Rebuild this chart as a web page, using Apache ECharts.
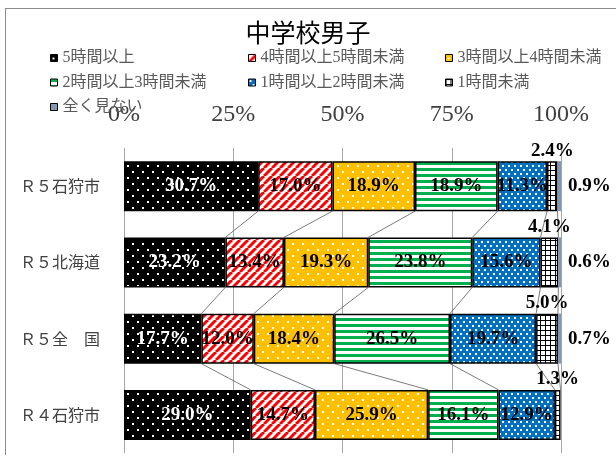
<!DOCTYPE html>
<html>
<head>
<meta charset="utf-8">
<script src="https://cdn.jsdelivr.net/npm/echarts@6/dist/echarts.min.js"></script>
<style>
html, body { margin: 0; padding: 0; background: #fff; }
#frame { position: absolute; left: 5px; top: 8px; width: 640px; height: 446px;
         border-left: 1px solid #8c8c8c; border-top: 1px solid #8c8c8c; }
#main { position: absolute; left: 0; top: 0; width: 616px; height: 457px; }
</style>
</head>
<body>
<div id="frame"></div>
<div id="main"></div>
<script>
// 中学校男子 テレビ視聴時間
var categories = ['Ｒ５石狩市', 'Ｒ５北海道', 'Ｒ５全　国', 'Ｒ４石狩市'];
var seriesNames = ['5時間以上', '4時間以上5時間未満', '3時間以上4時間未満',
                   '2時間以上3時間未満', '1時間以上2時間未満', '1時間未満', '全く見ない'];
var h5plus = [30.7, 23.2, 17.7, 29.0];
var h4to5  = [17.0, 13.4, 12.0, 14.7];
var h3to4  = [18.9, 19.3, 18.4, 25.9];
var h2to3  = [18.9, 23.8, 26.5, 16.1];
var h1to2  = [11.3, 15.6, 19.7, 12.9];
var under1 = [2.4, 4.1, 5.0, 1.3];
var none   = [0.9, 0.6, 0.7, 0];
var tickLabels = ['0%', '25%', '50%', '75%', '100%'];

var seriesData = [h5plus, h4to5, h3to4, h2to3, h1to2, under1, none];

// 塗りパターン（canvasタイル）
function makeTile(w, h, draw) {
    var c = document.createElement('canvas');
    c.width = w; c.height = h;
    draw(c.getContext('2d'), w, h);
    return { image: c, repeat: 'repeat' };
}
function dots(bg, w, h, pts, size) {
    return makeTile(w, h, function (ctx) {
        ctx.fillStyle = bg; ctx.fillRect(0, 0, w, h);
        ctx.fillStyle = '#fff';
        pts.forEach(function (p) { ctx.fillRect(p[0], p[1], size, size); });
    });
}
var dotBlack = dots('#000', 10, 12, [[2, 3], [7, 9]], 2);
var dotOrange = dots('#FFC000', 10, 12, [[2, 3], [7, 9]], 2);
var dotBlue = dots('#0070C0', 6, 8, [[1, 1], [4, 5]], 2);
var redStripe = makeTile(8, 8, function (ctx, w, h) {
    ctx.fillStyle = '#fff'; ctx.fillRect(0, 0, w, h);
    ctx.strokeStyle = '#FF0000'; ctx.lineWidth = 3;
    [-8, 0, 8].forEach(function (o) {
        ctx.beginPath(); ctx.moveTo(o, h); ctx.lineTo(o + w, 0); ctx.stroke();
    });
});
var greenStripe = makeTile(4, 6, function (ctx, w, h) {
    ctx.fillStyle = '#fff'; ctx.fillRect(0, 0, w, h);
    ctx.fillStyle = '#00B050'; ctx.fillRect(0, 0, w, 3);
});
var gridFill = makeTile(5, 5, function (ctx, w, h) {
    ctx.fillStyle = '#fff'; ctx.fillRect(0, 0, w, h);
    ctx.fillStyle = '#000'; ctx.fillRect(0, 0, w, 1); ctx.fillRect(0, 0, 1, h);
});
var fills = [dotBlack, redStripe, dotOrange, greenStripe, dotBlue, gridFill, '#8497B0'];

var barW = 50;
var numFont = "'Liberation Serif', 'Noto Sans CJK JP', serif";

function pct(p) { return p.value > 0 ? p.value.toFixed(1) + '%' : ''; }

var series = seriesData.map(function (arr, k) {
    var lbl = { show: true, formatter: pct, fontFamily: numFont, fontSize: 19, fontWeight: 'bold',
                color: '#000', textBorderWidth: 0 };
    if (k < 5) {
        lbl.position = 'inside';
        if (k === 0) lbl.color = '#fff';
    } else if (k === 5) {
        lbl.position = 'top'; lbl.distance = 1;
    } else {
        lbl.position = 'right'; lbl.distance = 7;
    }
    return {
        name: seriesNames[k], type: 'bar', stack: 'total', barWidth: barW,
        data: arr,
        itemStyle: { color: fills[k], borderColor: k === 6 ? '#8497B0' : '#000',
                     borderWidth: k === 6 ? 0 : 1.5 },
        label: lbl
    };
});

// 区分線（上下の棒の境界をつなぐ）
var linkData = [];
for (var i = 0; i < categories.length - 1; i++) {
    var a = 0, b = 0;
    for (var k = 0; k < 6; k++) {
        a += seriesData[k][i]; b += seriesData[k][i + 1];
        linkData.push([a, i, b, i + 1]);
    }
}
series.push({
    type: 'custom', silent: true, z: 1,
    encode: { x: [0, 2], y: [1, 3] },
    data: linkData,
    renderItem: function (params, api) {
        var p1 = api.coord([api.value(0), api.value(1)]);
        var p2 = api.coord([api.value(2), api.value(3)]);
        return {
            type: 'line',
            shape: { x1: p1[0], y1: p1[1] + barW / 2, x2: p2[0], y2: p2[1] - barW / 2 },
            style: { stroke: '#595959', lineWidth: 0.8 }
        };
    }
});

var legendText = { fontFamily: numFont, fontSize: 16, color: '#595959', lineHeight: 16 };
function legendAt(left, names) {
    return { orient: 'vertical', left: left, top: 45, icon: 'rect', itemWidth: 7, itemHeight: 7,
             itemGap: 8.5, textStyle: legendText, data: names,
             itemStyle: { borderColor: '#000', borderWidth: 1 } };
}

var myChart = echarts.init(document.getElementById('main'));
var option = {
    animation: false,
    title: {
        text: '中学校男子', left: 'center', top: 15,
        textStyle: { fontFamily: 'Noto Sans CJK JP', fontSize: 25, fontWeight: 'normal', color: '#000' }
    },
    legend: [
        legendAt(45, [seriesNames[0], seriesNames[3], seriesNames[6]]),
        legendAt(243, [seriesNames[1], seriesNames[4]]),
        legendAt(440, [seriesNames[2], seriesNames[5]])
    ],
    grid: { left: 124, right: 55, top: 148, bottom: 4 },
    xAxis: {
        type: 'value', position: 'top', min: 0, max: 100, interval: 25,
        axisLine: { show: false }, axisTick: { show: false },
        axisLabel: {
            formatter: function (v) { return tickLabels[v / 25]; },
            fontFamily: numFont, fontSize: 24, color: '#404040', margin: 21
        },
        splitLine: { show: true, lineStyle: { color: '#a6a6a6', width: 1 } }
    },
    yAxis: {
        type: 'category', inverse: true, data: categories,
        axisLine: { show: false }, axisTick: { show: false },
        axisLabel: { fontFamily: 'Noto Sans CJK JP', fontSize: 16, color: '#404040', margin: 24 }
    },
    series: series
};
myChart.setOption(option);
</script>
</body>
</html>
